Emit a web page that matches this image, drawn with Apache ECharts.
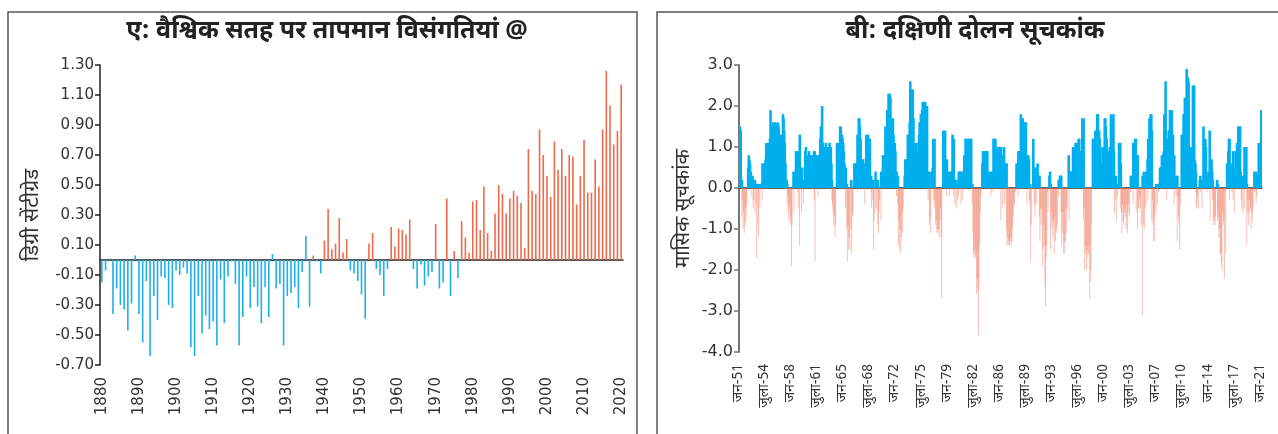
<!DOCTYPE html>
<html>
<head>
<meta charset="utf-8">
<script src="https://cdn.jsdelivr.net/npm/echarts@6/dist/echarts.min.js"></script>
<style>
  html, body { margin: 0; padding: 0; background: #fff; }
  #chart { width: 1278px; height: 434px; }
</style>
</head>
<body>
<div id="chart"></div>
<script>
// ---- Panel A: annual global surface temperature anomaly (deg C), 1880-2020 ----
const years = [];
for (let y = 1880; y <= 2020; y++) years.push(String(y));

const anomaly = [
  -0.15, -0.07, 0.01, -0.36, -0.19, -0.30, -0.33, -0.47, -0.29, 0.03,
  -0.36, -0.55, -0.14, -0.64, -0.24, -0.40, -0.11, -0.12, -0.30, -0.32,
  -0.07, -0.10, -0.05, -0.09, -0.58, -0.64, -0.24, -0.49, -0.37, -0.46,
  -0.41, -0.57, -0.13, -0.42, -0.11, -0.01, -0.16, -0.57, -0.38, -0.11,
  -0.32, -0.18, -0.31, -0.42, -0.18, -0.38, 0.04, -0.19, -0.16, -0.57,
  -0.24, -0.22, -0.18, -0.32, -0.08, 0.16, -0.31, 0.03, -0.01, -0.09,
  0.13, 0.34, 0.07, 0.11, 0.28, 0.05, 0.14, -0.07, -0.09, -0.14,
  -0.23, -0.39, 0.11, 0.18, -0.06, -0.10, -0.24, -0.06, 0.22, 0.09,
  0.21, 0.20, 0.17, 0.27, -0.06, -0.19, -0.03, -0.17, -0.11, -0.08,
  0.24, -0.19, -0.15, 0.41, -0.24, 0.06, -0.12, 0.26, 0.15, 0.05,
  0.39, 0.40, 0.20, 0.49, 0.18, 0.06, 0.31, 0.50, 0.44, 0.31,
  0.41, 0.46, 0.43, 0.38, 0.08, 0.74, 0.46, 0.44, 0.87, 0.70,
  0.56, 0.42, 0.79, 0.60, 0.74, 0.56, 0.70, 0.69, 0.37, 0.56,
  0.80, 0.45, 0.45, 0.67, 0.49, 0.87, 1.26, 1.03, 0.77, 0.86,
  1.17
];
// Bars are blue up to this year, red afterwards when above zero
const firstWarmYear = 1937;

// ---- Panel B: monthly Southern Oscillation Index, Jan 1951 - Feb 2021 ----
const soi1950s = [
  1.5, 1.4, 0.2, 0.2, -0.7, -0.3, -1.0, -0.6, -1.1, -0.9, -0.5, -0.8,
  -0.4, 0.5, 0.8, 0.7, 0.6, 0.4, 0.3, -0.2, 0.3, 0.2, -0.5, -0.3,
  0.2, -0.6, 0.1, -0.4, -1.7, 0.1, -0.9, -1.2, 0.1, -0.5, 0.1, 0.1,
  0.6, -0.3, 0.5, 0.6, 0.3, 0.7, 1.1, 0.8, 1.0, 1.1, 0.7, 1.1,
  1.2, 1.9, 1.0, 1.5, 1.4, 1.6, 1.5, 1.5, 1.6, 1.6, 1.3, 1.5,
  1.5, 1.6, 1.5, 1.2, 1.3, 1.0, 1.3, 1.1, 1.2, 1.8, 1.7, 1.4,
  1.1, 0.6, 0.2, 0.2, 0.1, -0.4, -0.2, -0.6, -0.8, -0.4, -0.9, -0.7,
  -1.9, -0.9, 0.4, 0.2, -0.6, 0.4, 0.9, 0.6, 0.3, 0.9, -0.1, -0.5,
  1.3, -1.4, 0.5, 0.5, -0.6, 0.2, 0.1, -0.4, 0.5, 0.9, 1.0, 0.7
];
const soi1960s = [
  0.5, 0.8, 0.6, 0.9, 0.8, 0.5, 0.7, 0.8, 0.6, 0.6, 0.8, 0.9,
  0.9, -0.3, -1.8, 0.8, 0.3, 0.8, 0.5, -0.2, 0.8, 1.2, 1.5, 1.3,
  2.0, 1.1, 1.0, 0.9, 1.0, 0.8, 1.1, 1.0, 0.7, 1.0, 0.8, 0.9,
  1.1, 0.8, 1.0, 0.6, 0.2, -0.3, -0.4, -0.6, -0.9, -0.7, -1.2, -0.9,
  1.1, 0.9, 1.1, 1.0, 1.0, 1.5, 1.5, 1.3, 1.3, 1.2, 1.1, 0.9,
  0.6, 0.4, 0.5, -0.5, 0.1, -1.0, -1.8, -0.9, -1.5, -1.2, -1.5, 0.2,
  -1.0, -1.6, -0.7, -0.6, 0.6, 0.6, 0.3, 0.6, 0.5, 1.3, -0.1, 1.7,
  1.7, 1.5, 1.2, 0.6, 0.7, 0.5, 0.7, 0.4, 0.6, 0.5, -0.4, 1.3,
  1.2, 0.3, 1.3, 1.2, 1.1, 1.2, 0.2, 0.3, -0.1, -0.5, 0.2, -0.3,
  -1.5, -0.8, 0.4, -0.6, 0.2, -0.5, 0.2, -0.9, -1.1, -0.6, -0.3, 0.4
];
const soi1970s = [
  -0.8, 0.4, 0.8, 0.3, 0.8, 0.6, 1.5, 1.2, 1.5, 1.9, 1.6, 2.3,
  1.9, 2.3, 2.2, 1.4, 1.7, 0.9, 1.7, 1.3, 1.1, 1.1, 0.9, 0.4,
  0.4, -0.2, 0.3, -0.4, -1.4, -0.8, -1.5, -1.0, -1.6, -1.2, -0.6, -1.1,
  -0.5, 0.3, 0.7, 0.5, 0.7, 0.4, 1.3, 1.3, 1.2, 1.6, 2.6, 2.2,
  2.0, 2.4, 2.4, 1.7, 1.1, 0.9, 1.1, 0.8, 1.1, 0.9, 0.3, 0.9,
  1.3, 1.6, 1.6, 1.8, 1.5, 1.9, 2.1, 2.1, 2.1, 2.0, 2.1, 1.9,
  1.4, 2.0, 0.4, 0.1, -0.3, 0.4, -0.9, -0.7, -1.1, 0.4, 0.5, 1.2,
  -0.3, 1.2, -0.5, -0.3, -0.9, -0.8, -1.1, -1.0, -1.1, -1.0, -1.2, -0.8,
  -0.5, -1.2, -2.7, 1.4, 0.4, 1.3, 1.4, 0.7, 0.5, 0.7, -0.2, 0.1,
  0.4, 0.3, -0.2, 0.4, 0.3, 0.4, 1.3, 0.5, 1.2, -0.2, 0.2, -0.4
];
const soi1980s = [
  0.2, 0.1, -0.5, -0.3, 0.4, -0.2, 0.4, 0.4, 0.3, -0.4, 0.4, -0.3,
  0.4, 0.8, 0.3, 1.2, 1.2, 0.7, 1.2, 0.9, 0.7, 1.2, 1.0, 1.2,
  1.2, 0.1, 0.1, -0.4, -1.1, -1.6, -1.7, -1.5, -1.7, -1.6, -2.6, -2.2,
  -2.5, -3.6, -2.4, -1.4, -0.6, -0.2, 0.6, 0.9, 0.6, 0.9, 0.2, 0.5,
  0.9, 0.9, 0.9, 0.3, 0.4, 0.1, 0.2, 0.4, 0.3, -0.2, 0.4, -0.1,
  1.2, 1.2, 1.1, 1.2, 0.9, 1.0, 0.1, 1.0, 0.6, 1.0, 0.2, 0.1,
  1.0, -0.8, 0.8, 0.2, -0.5, 1.0, 0.1, -0.4, 0.6, 0.6, -1.0, -1.4,
  -1.2, -1.4, -1.3, -1.4, -1.3, -1.2, -1.4, -1.3, -1.0, -0.7, -0.4, -0.4,
  -0.1, 0.6, 0.2, 0.4, 0.9, -0.2, 0.9, 0.9, 1.8, 1.7, 1.5, 1.7,
  1.6, 1.6, 1.5, 1.6, 1.6, 0.7, 0.8, -0.4, 0.8, 0.7, 0.1, -0.3
];
const soi1990s = [
  -0.4, -1.8, -0.9, 0.1, 1.2, 0.3, 0.5, -0.4, -0.7, 0.5, -0.4, 0.6,
  0.3, 0.3, 0.3, -0.7, -1.3, -0.5, -0.9, -0.5, -1.9, -1.5, -0.9, -1.4,
  -2.4, -2.9, -1.7, -1.4, -0.1, -0.6, 0.3, 0.4, 0.1, -1.5, -0.6, -0.8,
  -1.0, -1.2, -0.8, -1.6, -0.7, -1.3, -1.0, -1.1, -0.9, 0.2, -0.2, 0.3,
  0.3, 0.3, -0.6, -1.4, -1.1, -0.6, -1.6, -1.3, -1.6, -1.3, -0.5, -1.1,
  -0.5, 0.8, 0.3, -0.8, 0.4, 0.4, 0.4, 0.2, 1.0, 0.2, 1.0, 0.1,
  1.1, 0.4, 1.1, 0.9, 0.6, 1.2, 1.2, 0.9, 0.8, 0.6, 0.1, 1.7,
  1.6, 1.7, -0.8, -0.5, -2.0, -1.6, -1.4, -2.0, -1.5, -1.7, -1.6, -1.4,
  -2.7, -2.0, -2.3, -0.9, 1.2, 1.2, 1.1, 1.2, 1.4, 1.4, 1.2, 1.8,
  1.8, 1.4, 1.4, 1.2, 1.0, 0.3, 0.5, 0.6, 1.0, 1.0, 1.0, 1.7
];
const soi2000s = [
  1.7, 1.5, 1.2, 1.0, 0.9, 0.3, 0.3, 0.2, 1.0, 1.8, 1.7, 1.0,
  1.5, 1.8, 0.9, 0.2, -0.6, 0.3, -0.3, -0.8, 0.1, -0.2, 1.1, 0.3,
  1.1, 0.6, -0.5, -0.6, -1.1, -0.4, -0.8, -0.9, -0.6, -0.5, -0.7, -1.0,
  -0.4, -1.1, -0.6, -0.4, -0.7, 0.3, -0.1, 0.3, 0.2, 1.1, -0.4, 0.3,
  1.2, 1.2, 0.8, -0.6, 0.8, -1.0, -0.5, -0.5, -0.3, -0.2, -0.5, -0.9,
  0.3, -3.1, 0.4, -0.9, -1.0, -0.5, 0.4, -0.4, 0.7, 1.2, -0.3, 1.7,
  1.7, 1.8, 1.8, 1.4, -0.8, -0.3, -0.9, -1.3, -0.7, -1.3, 0.1, -0.6,
  0.1, -0.4, 0.1, -0.1, 0.5, 0.3, 0.5, 0.8, 0.1, 0.8, 0.9, 1.8,
  1.8, 2.6, 1.2, 0.9, -0.3, 1.2, 1.4, 1.4, 1.9, 1.4, 1.5, 1.9,
  0.9, 1.3, 0.3, 0.8, -0.4, 0.1, 0.3, -0.2, 0.3, -1.3, -0.2, -0.7
];
const soi2010s = [
  -0.9, -1.5, -0.4, 1.3, 0.9, 0.2, 1.8, 1.8, 2.2, 2.0, 1.7, 2.9,
  2.3, 2.7, 2.6, 1.0, 0.4, 0.2, 1.0, 0.8, 1.0, 2.5, 1.4, 2.5,
  0.7, 0.6, 0.4, -0.1, -0.5, -0.4, -0.2, -0.5, 0.2, 0.3, 0.2, -0.1,
  0.1, -0.5, 1.5, 0.2, 0.6, 1.2, 1.0, 0.2, 0.3, -0.1, 0.4, 0.3,
  1.4, 0.1, -0.8, 0.7, 0.4, 0.2, -0.3, -0.9, -0.7, -0.8, -0.9, -0.7,
  0.2, 0.1, -0.8, -0.7, -1.2, -1.0, -1.6, -1.6, -1.8, -2.0, -0.6, -0.9,
  -0.8, -2.2, -0.1, -1.6, 0.6, 0.6, 0.9, 1.2, 1.2, -0.3, 0.6, 0.3,
  0.3, -0.1, 0.9, -0.3, 0.5, -0.6, 0.9, 0.6, 1.1, 1.0, 1.5, 0.1,
  1.5, 1.5, 0.4, 0.2, -0.3, -0.5, 0.3, -0.6, 1.0, -0.5, 0.4, 1.0,
  0.1, -1.4, -0.6, -0.3, -0.9, -0.6, -0.3, -0.5, -1.0, -0.6, -0.8, -0.5
];
const soi2020s = [
  0.4, -0.1, -0.1, 0.4, -0.4, -0.2, 0.3, 1.1, 0.9, 1.0, 0.8, 1.9,
  1.9, 1.5
];
const soi = [].concat(soi1950s, soi1960s, soi1970s, soi1980s, soi1990s, soi2000s, soi2010s, soi2020s);

// Month abbreviations used on the time axis
const monthNames = ['जन', 'फर', 'मार्च', 'अप्रै', 'मई', 'जून', 'जुला', 'अग', 'सितं', 'अक्टू', 'नवं', 'दिसं'];
const months = soi.map((_, i) => {
  const yr = 1951 + Math.floor(i / 12);
  return monthNames[i % 12] + '-' + String(yr % 100).padStart(2, '0');
});

// ---- Text ----
const titleA = 'ए: वैश्विक सतह पर तापमान विसंगतियां @';
const titleB = 'बी: दक्षिणी दोलन सूचकांक';
const yNameA = 'डिग्री सेंटीग्रेड';
const yNameB = 'मासिक सूचकांक';

const DEVA = "'Noto Sans Devanagari', 'Noto Sans', 'FreeSans', sans-serif";
const NUM = "'DejaVu Sans', sans-serif";
const BLUE = '#1eb0ea';
const RED = '#ee6a4b';

const chart = echarts.init(document.getElementById('chart'), null, { renderer: 'canvas' });

chart.setOption({
  backgroundColor: '#ffffff',
  animation: false,
  graphic: [
    { type: 'rect', shape: { x: 8, y: 12, width: 629, height: 440 },
      style: { fill: 'none', stroke: '#555', lineWidth: 1.5 } },
    { type: 'rect', shape: { x: 657, y: 12, width: 640, height: 440 },
      style: { fill: 'none', stroke: '#555', lineWidth: 1.5 } }
  ],
  title: [
    { text: titleA, left: 322, top: 16, textAlign: 'center',
      textStyle: { fontFamily: DEVA, fontSize: 25, fontWeight: 'bold', color: '#222' } },
    { text: titleB, left: 970, top: 16, textAlign: 'center',
      textStyle: { fontFamily: DEVA, fontSize: 25, fontWeight: 'bold', color: '#222' } }
  ],
  grid: [
    { left: 100, top: 65, width: 523, height: 300, containLabel: false },
    { left: 739, top: 65, width: 523, height: 287, containLabel: false }
  ],
  xAxis: [
    { // panel A labels along the bottom
      gridIndex: 0, type: 'category', data: years, position: 'bottom',
      axisLine: { show: false, onZero: false }, axisTick: { show: false },
      axisLabel: { interval: 9, rotate: 90, margin: 12, fontFamily: NUM, fontSize: 15, color: '#333' }
    },
    { // panel A zero line with ticks
      gridIndex: 0, type: 'category', data: years, position: 'bottom',
      axisLine: { onZero: true, lineStyle: { color: '#222', width: 1.5 } },
      axisTick: { interval: 3, length: 4, lineStyle: { color: '#222', width: 1.5 } },
      axisLabel: { show: false }
    },
    { // panel B labels along the bottom
      gridIndex: 1, type: 'category', data: months, position: 'bottom',
      axisLine: { show: false, onZero: false }, axisTick: { show: false },
      axisLabel: { interval: 41, rotate: 90, margin: 12, fontFamily: DEVA, fontSize: 14, color: '#333' }
    },
    { // panel B zero line with ticks
      gridIndex: 1, type: 'category', data: months, position: 'bottom',
      axisLine: { onZero: true, lineStyle: { color: '#333', width: 1.5 } },
      axisTick: { interval: 41, alignWithLabel: true, length: 4, lineStyle: { color: '#444', width: 1.5 } },
      axisLabel: { show: false }
    }
  ],
  yAxis: [
    {
      gridIndex: 0, type: 'value', min: -0.7, max: 1.3, interval: 0.2,
      name: yNameA, nameLocation: 'middle', nameRotate: 90, nameGap: 55,
      nameTextStyle: { fontFamily: DEVA, fontSize: 21, color: '#333' },
      axisLine: { show: true, lineStyle: { color: '#222', width: 1.5 } },
      axisTick: { show: true, length: 5, lineStyle: { color: '#222', width: 1.5 } },
      splitLine: { show: false },
      axisLabel: { margin: 6, fontFamily: NUM, fontSize: 15, color: '#333',
        formatter: v => v.toFixed(2) }
    },
    {
      gridIndex: 1, type: 'value', min: -4, max: 3, interval: 1,
      name: yNameB, nameLocation: 'middle', nameRotate: 90, nameGap: 44,
      nameTextStyle: { fontFamily: DEVA, fontSize: 20, color: '#333' },
      axisLine: { show: true, lineStyle: { color: '#777', width: 2 } },
      axisTick: { show: true, length: 5, lineStyle: { color: '#777', width: 1.5 } },
      splitLine: { show: false },
      axisLabel: { margin: 6, fontFamily: NUM, fontSize: 16, color: '#333',
        formatter: v => v.toFixed(1) }
    }
  ],
  series: [
    {
      type: 'bar', xAxisIndex: 0, yAxisIndex: 0, data: anomaly, barWidth: 1.6,
      itemStyle: {
        color: p => (p.value < 0 || Number(years[p.dataIndex]) < firstWarmYear) ? BLUE : RED
      }
    },
    {
      type: 'bar', xAxisIndex: 2, yAxisIndex: 1, barWidth: 2.6, barGap: '-100%',
      data: soi.map(v => (v > 0 ? v : '-')),
      itemStyle: { color: '#00b0ee' }
    },
    {
      type: 'bar', xAxisIndex: 2, yAxisIndex: 1, barWidth: 1, barGap: '-100%',
      data: soi.map(v => (v < 0 ? v : '-')),
      itemStyle: { color: 'rgba(240,118,92,0.45)' }
    }
  ]
});
</script>
</body>
</html>
